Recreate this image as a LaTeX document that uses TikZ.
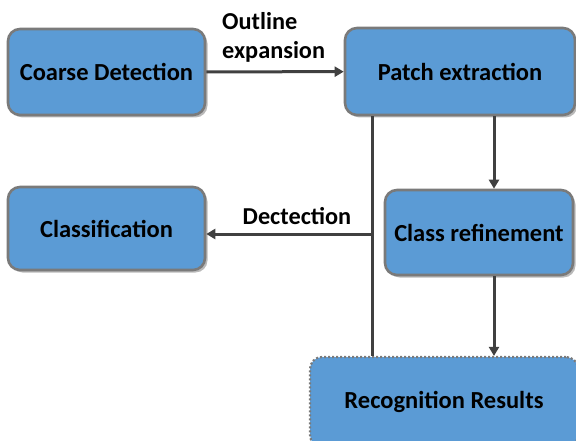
\documentclass[tikz,border=0pt]{standalone}
\usepackage{fontspec}
\setmainfont{Carlito}
\usetikzlibrary{shadows,arrows.meta}
\definecolor{boxblue}{HTML}{5B9BD5}
\definecolor{boxedge}{HTML}{7A7A7A}
\definecolor{wire}{HTML}{404040}
\tikzset{
  block/.style={rectangle, rounded corners=12pt, fill=boxblue, draw=boxedge,
    line width=2.6pt, font=\fontsize{24.5}{28}\selectfont\bfseries, text=black,
    inner sep=0pt,
    drop shadow={shadow xshift=2.5pt, shadow yshift=-2.5pt, opacity=0.45, fill=black!60}},
  dotedge/.style={dash pattern=on 2pt off 2pt, line width=2.2pt},
  wireline/.style={draw=wire, line width=3pt},
  wirearrow/.style={wireline, -{Triangle[length=9pt,width=10pt]}},
  lbl/.style={font=\fontsize{24.3}{29}\selectfont\bfseries, text=black, inner sep=0pt}
}
\begin{document}
\begin{tikzpicture}[x=1pt, y=-1pt]
  \useasboundingbox (0,0) rectangle (576,441);
  \begin{scope}
    \clip (0,0) rectangle (576,441);
    \node[block, minimum width=197pt, minimum height=86pt] (coarse) at (106.5,72) {Coarse Detection};
    \node[block, minimum width=230pt, minimum height=87pt] (patch) at (460,71.5) {Patch extraction};
    \node[block, minimum width=197pt, minimum height=83pt] (classif) at (106.5,228.5) {Classification};
    \node[block, minimum width=188pt, minimum height=85pt] (refine) at (479,232.5) {Class refinement};
    \node[block, dotedge, minimum width=268pt, minimum height=90pt] (recog) at (444,402) {Recognition Results};
  \end{scope}

  \coordinate (split) at (372,234);
  \coordinate (rightcol) at (494,0);

  % top row: coarse detection feeds patch extraction
  \draw[wirearrow] (coarse) -- (patch);
  \node[lbl, anchor=north west, align=left] (outline) at (222,12) {Outline\\expansion};

  % left trunk from patch extraction down to the results, with a branch to classification
  \draw[wireline] (patch.south -| split) -- (recog.north -| split);
  \draw[wirearrow] (split) -- (classif.east |- split);
  \node[lbl] (detlabel) at (297,216) {Dectection};

  % right column: patch extraction -> class refinement -> results
  \draw[wirearrow] (patch.south -| rightcol) -- (refine.north -| rightcol);
  \draw[wirearrow] (refine.south -| rightcol) -- (recog.north -| rightcol);
\end{tikzpicture}
\end{document}
